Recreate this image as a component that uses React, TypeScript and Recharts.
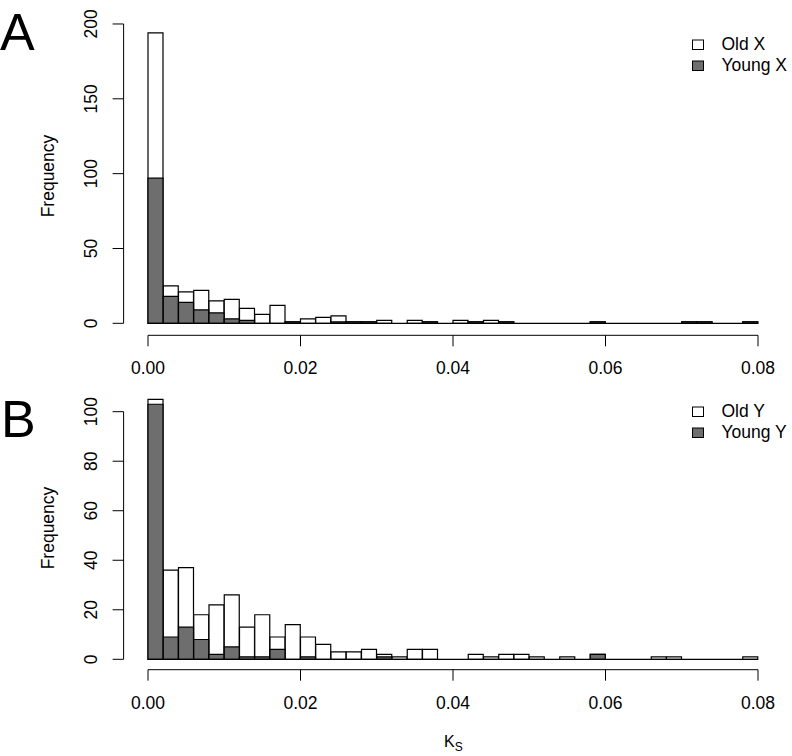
import React from "react";
import { BarChart, Bar, XAxis, YAxis, ReferenceLine, Legend } from "recharts";

// histogram bins of Ks, width 0.002, from 0 to 0.08
const BIN_WIDTH = 0.002;
const binMids = Array.from({ length: 40 }, (_, i) => +(i * BIN_WIDTH + BIN_WIDTH / 2).toFixed(4));

const oldX = [194, 25, 21, 22, 15, 16, 10, 6, 12, 1, 3, 4, 5, 1, 1, 2, 0, 2, 1, 0, 2, 1, 2, 1, 0, 0, 0, 0, 0, 1, 0, 0, 0, 0, 0, 1, 1, 0, 0, 1];
const youngX = [97, 18, 14, 9, 7, 3, 2, 0, 0, 1, 0, 0, 1, 1, 1, 0, 0, 0, 1, 0, 0, 1, 0, 1, 0, 0, 0, 0, 0, 1, 0, 0, 0, 0, 0, 1, 1, 0, 0, 1];
const oldY = [105, 36, 37, 18, 22, 26, 13, 18, 9, 14, 9, 6, 3, 3, 4, 2, 1, 4, 4, 0, 0, 2, 1, 2, 2, 1, 0, 1, 0, 2, 0, 0, 0, 1, 1, 0, 0, 0, 0, 1];
const youngY = [103, 9, 13, 8, 2, 5, 1, 1, 4, 0, 1, 0, 0, 0, 0, 1, 0, 0, 0, 0, 0, 0, 0, 0, 0, 0, 0, 0, 0, 2, 0, 0, 0, 0, 0, 0, 0, 0, 0, 0];

const xTicks = [0, 0.02, 0.04, 0.06, 0.08];
const yTicksA = [0, 50, 100, 150, 200];
const yTicksB = [0, 20, 40, 60, 80, 100];

const X_DOMAIN: [number, number] = [-0.0032, 0.0832];
const FONT = "'Liberation Sans', Arial, Helvetica, sans-serif";
const YOUNG_FILL = "#6e6e6e";

const YTick = (props: any) => {
  const { x, y, payload } = props;
  return (
    <text x={x} y={y} transform={`rotate(-90 ${x} ${y})`} textAnchor="middle" fontSize={17.5} fill="#000">
      {payload.value}
    </text>
  );
};

const renderLegend = (props: any) => {
  const { payload } = props;
  return (
    <svg width={100} height={54}>
      {(payload || []).map((p: any, i: number) => (
        <g key={p.value}>
          <rect x={1.5} y={10 + i * 21} width={11} height={9.5} fill={p.color} stroke="#000" strokeWidth={1} />
          <text x={30.5} y={19.5 + i * 21} fontSize={17.5} fill="#000" fontFamily={FONT}>
            {p.value}
          </text>
        </g>
      ))}
    </svg>
  );
};

interface PanelProps {
  oldVals: number[];
  youngVals: number[];
  oldName: string;
  youngName: string;
  yDomain: [number, number];
  yTicks: number[];
  marginTop: number;
  marginBottom: number;
  legendTop: number;
}

function Panel({ oldVals, youngVals, oldName, youngName, yDomain, yTicks, marginTop, marginBottom, legendTop }: PanelProps) {
  const data = binMids.map((k, i) => ({ k, old: oldVals[i], young: youngVals[i] }));
  const yTop = yTicks[yTicks.length - 1];
  return (
    <BarChart
      width={792}
      height={378}
      data={data}
      barCategoryGap={0}
      barGap={0}
      margin={{ top: marginTop, right: 9.6, bottom: marginBottom, left: 0 }}
    >
      <XAxis
        xAxisId="old"
        dataKey="k"
        type="number"
        domain={X_DOMAIN}
        ticks={xTicks}
        interval={0}
        tickFormatter={(v: number) => v.toFixed(2)}
        axisLine={false}
        tickLine={{ stroke: "#000" }}
        tickSize={11}
        tickMargin={15.4}
        height={40}
        tick={{ fill: "#000", fontSize: 17.5 }}
      />
      <XAxis xAxisId="young" dataKey="k" type="number" domain={X_DOMAIN} hide />
      <YAxis
        domain={yDomain}
        ticks={yTicks}
        interval={0}
        axisLine={false}
        tickLine={{ stroke: "#000" }}
        tickSize={11}
        tickMargin={16}
        width={123.6}
        tick={<YTick />}
      />
      <Bar xAxisId="old" dataKey="old" name={oldName} fill="#ffffff" stroke="#000" strokeWidth={1.2} isAnimationActive={false} />
      <Bar xAxisId="young" dataKey="young" name={youngName} fill={YOUNG_FILL} stroke="#000" strokeWidth={1.2} isAnimationActive={false} />
      {/* zero-count bins still show their outline along the baseline */}
      <ReferenceLine
        xAxisId="old"
        segment={[{ x: 0, y: 0 }, { x: 0.08, y: 0 }]}
        stroke="#000"
        strokeWidth={1.2}
        ifOverflow="visible"
      />
      {/* R-style detached axes */}
      <ReferenceLine
        xAxisId="old"
        segment={[{ x: X_DOMAIN[0], y: 0 }, { x: X_DOMAIN[0], y: yTop }]}
        stroke="#000"
        ifOverflow="visible"
      />
      <ReferenceLine
        xAxisId="old"
        segment={[{ x: 0, y: yDomain[0] }, { x: 0.08, y: yDomain[0] }]}
        stroke="#000"
        ifOverflow="visible"
      />
      <Legend
        layout="horizontal"
        verticalAlign="middle"
        align="center"
        wrapperStyle={{ top: legendTop, left: 690.5, width: 100, height: 54 }}
        content={renderLegend}
      />
    </BarChart>
  );
}

export default function App() {
  return (
    <div style={{ position: "absolute", left: 0, top: 0, width: 792, height: 756, background: "#fff", fontFamily: FONT }}>
      <div style={{ position: "absolute", left: 0, top: 0 }}>
        <Panel
          oldVals={oldX}
          youngVals={youngX}
          oldName="Old X"
          youngName="Young X"
          yDomain={[-8, 208]}
          yTicks={yTicksA}
          marginTop={12}
          marginBottom={2.7}
          legendTop={30}
        />
      </div>
      <div style={{ position: "absolute", left: 0, top: 378 }}>
        <Panel
          oldVals={oldY}
          youngVals={youngY}
          oldName="Old Y"
          youngName="Young Y"
          yDomain={[-4.2, 109.2]}
          yTicks={yTicksB}
          marginTop={10.9}
          marginBottom={46.3}
          legendTop={18.7}
        />
      </div>
      <svg width={792} height={756} style={{ position: "absolute", left: 0, top: 0, pointerEvents: "none" }}>
        <text x={0} y={50} fontSize={52} fill="#000">A</text>
        <text x={1} y={437} fontSize={52} fill="#000">B</text>
        <text x={54} y={176} fontSize={17.5} fill="#000" textAnchor="middle" transform="rotate(-90 54 176)">Frequency</text>
        <text x={54} y={528} fontSize={17.5} fill="#000" textAnchor="middle" transform="rotate(-90 54 528)">Frequency</text>
        <text x={444} y={747} fontSize={16} fill="#000">
          K<tspan fontSize={12} dy={4}>S</tspan>
        </text>
      </svg>
    </div>
  );
}
